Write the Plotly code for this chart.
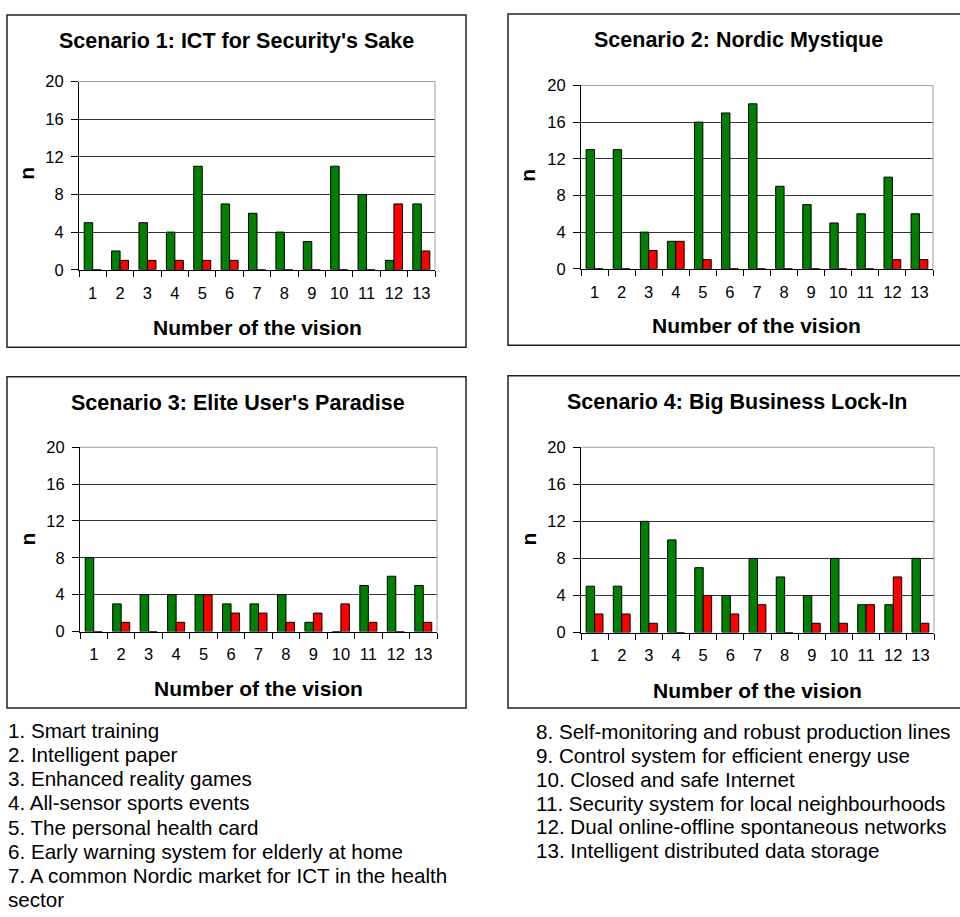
import plotly.graph_objects as go

visions = [str(i) for i in range(1, 14)]
titles = ["Scenario 1: ICT for Security's Sake",
          "Scenario 2: Nordic Mystique",
          "Scenario 3: Elite User's Paradise",
          "Scenario 4: Big Business Lock-In"]
green_s1 = [5, 2, 5, 4, 11, 7, 6, 4, 3, 11, 8, 1, 7]
red_s1 = [0, 1, 1, 1, 1, 1, 0, 0, 0, 0, 0, 7, 2]
green_s2 = [13, 13, 4, 3, 16, 17, 18, 9, 7, 5, 6, 10, 6]
red_s2 = [0, 0, 2, 3, 1, 0, 0, 0, 0, 0, 0, 1, 1]
green_s3 = [8, 3, 4, 4, 4, 3, 3, 4, 1, 0, 5, 6, 5]
red_s3 = [0, 1, 0, 1, 4, 2, 2, 1, 2, 3, 1, 0, 1]
green_s4 = [5, 5, 12, 10, 7, 4, 8, 6, 4, 8, 3, 3, 8]
red_s4 = [2, 2, 1, 0, 4, 2, 3, 0, 1, 1, 3, 6, 1]
y_ticks = [0, 4, 8, 12, 16, 20]
x_title = "Number of the vision"
y_title = "n"
legend_left = ["1. Smart training", "2. Intelligent paper", "3. Enhanced reality games",
               "4. All-sensor sports events", "5. The personal health card",
               "6. Early warning system for elderly at home",
               "7. A common Nordic market for ICT in the health", "sector"]
legend_right = ["8. Self-monitoring and robust production lines",
                "9. Control system for efficient energy use",
                "10. Closed and safe Internet",
                "11. Security system for local neighbourhoods",
                "12. Dual online-offline spontaneous networks",
                "13. Intelligent distributed data storage"]

W, H = 960, 917
FONT = "Liberation Sans, Arial, sans-serif"

def px(x):
    return x / W

def py(y):
    return 1 - y / H

greens = [green_s1, green_s2, green_s3, green_s4]
reds = [red_s1, red_s2, red_s3, red_s4]

plot_boxes = [(79, 435, 74, 266), (581, 933, 78, 265),
              (80, 437, 447, 635), (581, 934, 447, 636)]
panel_boxes = [(7, 466, 6, 345), (508, 965, 5, 343),
               (7, 466, 375, 713), (508, 965, 374, 713)]
title_pos = [(236, 33), (738, 32), (238, 402), (737, 401)]
xtitle_pos = [(257, 325), (756, 323), (258, 693), (757, 695)]
ytitle_pos = [(27, 168), (528, 170), (27, 541), (528, 541)]

fig = go.Figure()
layout = dict(width=W, height=H, margin=dict(l=0, r=0, t=0, b=0),
              paper_bgcolor="white", plot_bgcolor="white", showlegend=False,
              barmode="group", bargap=0.38, bargroupgap=0.0,
              font=dict(family=FONT, color="black"))
shapes = []
annotations = []
for i in range(4):
    n = i + 1
    xa = "x" if n == 1 else f"x{n}"
    ya = "y" if n == 1 else f"y{n}"
    fig.add_trace(go.Bar(x=visions, y=greens[i], xaxis=xa, yaxis=ya,
                         marker=dict(color="#008000", line=dict(color="black", width=1))))
    fig.add_trace(go.Bar(x=visions, y=reds[i], xaxis=xa, yaxis=ya,
                         marker=dict(color="#FF0000", line=dict(color="black", width=1))))
    x0, x1, yt, yb = plot_boxes[i]
    layout["xaxis" if n == 1 else f"xaxis{n}"] = dict(
        domain=[px(x0), px(x1)], anchor=ya, type="category",
        showline=True, linecolor="black", linewidth=1,
        ticks="outside", tickson="boundaries", ticklen=6, tickcolor="black",
        ticklabelstandoff=8,
        tickangle=0, showgrid=False, tickfont=dict(size=16.5, family=FONT), fixedrange=True)
    layout["yaxis" if n == 1 else f"yaxis{n}"] = dict(
        domain=[py(yb), py(yt)], anchor=xa, range=[0, 20],
        tickvals=y_ticks, showline=True, linecolor="black", linewidth=1,
        ticks="outside", ticklen=7, tickcolor="black", ticklabelstandoff=4,
        showgrid=True, gridcolor="#333333", gridwidth=1, zeroline=False,
        tickfont=dict(size=16.5, family=FONT), fixedrange=True)
    shapes.append(dict(type="line", xref=f"{xa} domain", yref=f"{ya} domain",
                       x0=0, x1=1, y0=1, y1=1, line=dict(color="#A0A0A0", width=1), layer="above"))
    shapes.append(dict(type="line", xref=f"{xa} domain", yref=f"{ya} domain",
                       x0=1, x1=1, y0=0, y1=1, line=dict(color="#A0A0A0", width=1), layer="above"))
    bx0, bx1, byt, byb = panel_boxes[i]
    shapes.append(dict(type="rect", xref="paper", yref="paper",
                       x0=px(bx0), x1=px(bx1), y0=py(byb), y1=py(byt),
                       line=dict(color="#222222", width=1.5)))
    tx, ty = title_pos[i]
    annotations.append(dict(text=f"<b>{titles[i]}</b>", x=px(tx), y=py(ty), xref="paper", yref="paper",
                            showarrow=False, xanchor="center", yanchor="middle",
                            font=dict(size=21.5, family=FONT)))
    tx, ty = xtitle_pos[i]
    annotations.append(dict(text=f"<b>{x_title}</b>", x=px(tx), y=py(ty), xref="paper", yref="paper",
                            showarrow=False, xanchor="center", yanchor="middle",
                            font=dict(size=21, family=FONT)))
    tx, ty = ytitle_pos[i]
    annotations.append(dict(text=f"<b>{y_title}</b>", x=px(tx), y=py(ty), xref="paper", yref="paper",
                            showarrow=False, xanchor="center", yanchor="middle", textangle=-90,
                            font=dict(size=21, family=FONT)))

for j, t in enumerate(legend_left):
    annotations.append(dict(text=t, x=px(6), y=py(736 + 24.6 * j), xref="paper", yref="paper",
                            showarrow=False, xanchor="left", yanchor="middle",
                            font=dict(size=20.6, family=FONT)))
for j, t in enumerate(legend_right):
    annotations.append(dict(text=t, x=px(534), y=py(737 + 24.3 * j), xref="paper", yref="paper",
                            showarrow=False, xanchor="left", yanchor="middle",
                            font=dict(size=20.6, family=FONT)))

layout["shapes"] = shapes
layout["annotations"] = annotations
fig.update_layout(**layout)
fig.write_html("out.html")
